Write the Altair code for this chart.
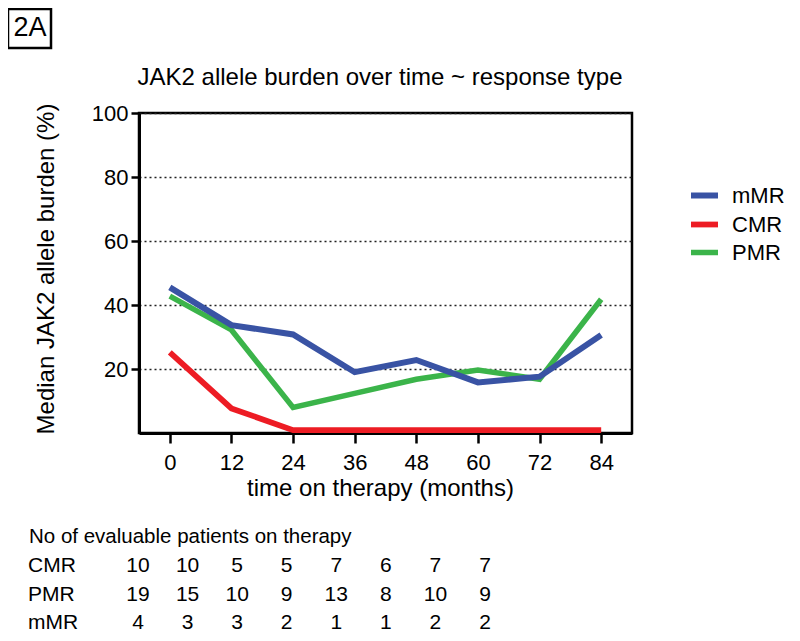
import altair as alt
import pandas as pd

# ---------------- data ----------------
months = [0, 12, 24, 36, 48, 60, 72, 84]
mmr = [45.5, 33.7, 30.8, 19.0, 22.8, 15.8, 17.6, 30.6]
cmr = [25.2, 7.7, 0.9, 0.9, 0.9, 0.9, 0.9, 0.9]
pmr = [42.8, 32.2, 8.0, 12.4, 16.8, 19.7, 16.8, 41.8]

series_order = ["mMR", "CMR", "PMR"]
series_colors = ["#3953a4", "#ed1c24", "#3bb44a"]
series_widths = [6, 5.5, 3.5]

n_cmr = [10, 10, 5, 5, 7, 6, 7, 7]
n_pmr = [19, 15, 10, 9, 13, 8, 10, 9]
n_mmr = [4, 3, 3, 2, 1, 1, 2, 2]
table_rows = ["CMR", "PMR", "mMR"]

chart_title = "JAK2 allele burden over time ~ response type"
table_title = "No of evaluable patients on therapy"
panel_label = "2A"
x_title = "time on therapy (months)"
y_title = "Median JAK2 allele burden (%)"
y_ticks = [20, 40, 60, 80, 100]

FONT = "Liberation Sans"

# draw order: CMR first, PMR, then mMR on top
line_rows = []
for name, vals in [("CMR", cmr), ("PMR", pmr), ("mMR", mmr)]:
    for m, v in zip(months, vals):
        line_rows.append({"series": name, "month": m, "value": v})
line_df = pd.DataFrame(line_rows)

tab_rows = []
for name, vals in [("CMR", n_cmr), ("PMR", n_pmr), ("mMR", n_mmr)]:
    for m, v in zip(months, vals):
        tab_rows.append({"row": name, "month": m, "n": str(v)})
tab_df = pd.DataFrame(tab_rows)
rowlab_df = pd.DataFrame({"row": table_rows})

one = pd.DataFrame({"t": [chart_title], "tt": [table_title], "p": [panel_label]})

# ---------------- main line chart ----------------
lines = alt.Chart(line_df).mark_line(strokeJoin="miter").encode(
    x=alt.X(
        "month:Q",
        scale=alt.Scale(domain=[-6, 90], nice=False, zero=False),
        axis=alt.Axis(
            values=months, title=x_title, grid=False, tickSize=10, tickWidth=2.5,
            labelPadding=9, labelFontSize=22, titleFontSize=24,
            titleX=241, titleY=62, titleBaseline="alphabetic", titleAlign="center",
        ),
    ),
    y=alt.Y(
        "value:Q",
        scale=alt.Scale(domain=[0, 100], nice=False),
        axis=alt.Axis(
            values=y_ticks, title=y_title, grid=True, gridDash=[2, 3], gridColor="#222222",
            gridWidth=1.5, tickSize=8, tickWidth=2.5, labelPadding=3, labelFontSize=22,
            titleFontSize=24, titleX=-86, titleY=155.5, titleBaseline="alphabetic",
            titleAlign="center", titleAngle=270,
        ),
    ),
    color=alt.Color(
        "series:N",
        scale=alt.Scale(domain=series_order, range=series_colors),
        legend=alt.Legend(
            title=None, orient="none", legendX=549, legendY=66, symbolType="stroke",
            symbolStrokeWidth=5, symbolSize=729, labelFontSize=22, labelOffset=11,
            rowPadding=0, padding=0, labelFont=FONT, labelColor="black",
        ),
    ),
    strokeWidth=alt.StrokeWidth(
        "series:N", scale=alt.Scale(domain=series_order, range=series_widths), legend=None
    ),
)

# ---------------- annotations ----------------
title_text = alt.Chart(one).mark_text(
    fontSize=24, font=FONT, align="center", baseline="middle", color="black"
).encode(text="t:N", x=alt.value(241), y=alt.value(-35))

box = alt.Chart(one).mark_rect(
    fillOpacity=0, stroke="black", strokeWidth=2.5
).encode(x=alt.value(-131), x2=alt.value(-88), y=alt.value(-104), y2=alt.value(-65))

box_text = alt.Chart(one).mark_text(
    fontSize=27, font=FONT, align="center", baseline="middle", color="black"
).encode(text="p:N", x=alt.value(-109), y=alt.value(-85))

table_title_text = alt.Chart(one).mark_text(
    fontSize=20.5, font=FONT, align="left", baseline="middle", color="black"
).encode(text="tt:N", x=alt.value(-110), y=alt.value(424))

row_scale = alt.Scale(domain=table_rows, range=[453, 510], padding=0)

row_labels = alt.Chart(rowlab_df).mark_text(
    fontSize=21, font=FONT, align="left", baseline="middle", color="black"
).encode(
    text="row:N",
    x=alt.value(-111),
    y=alt.Y("row:N", scale=row_scale, axis=None),
)

table = alt.Chart(tab_df).mark_text(
    fontSize=21, font=FONT, align="center", baseline="middle", color="black"
).encode(
    text="n:N",
    x=alt.X("month:Q", scale=alt.Scale(domain=[0, 84], range=[-1, 346]), axis=None),
    y=alt.Y("row:N", scale=row_scale, axis=None),
)

chart = alt.layer(
    lines, title_text, box, box_text, table_title_text, row_labels, table
).resolve_scale(
    x="independent", y="independent"
).properties(
    width=493,
    height=320,
    autosize=alt.AutoSizeParams(type="none"),
    padding={"left": 131, "top": 105, "right": 160, "bottom": 200},
).configure_view(
    stroke="black", strokeWidth=2.5
).configure_axis(
    labelFont=FONT, titleFont=FONT, labelColor="black", titleColor="black",
    tickColor="black", domainColor="black", domainWidth=3, titleFontWeight="normal",
)

chart.save("out.html", embed_options={"renderer": "svg", "actions": False})
